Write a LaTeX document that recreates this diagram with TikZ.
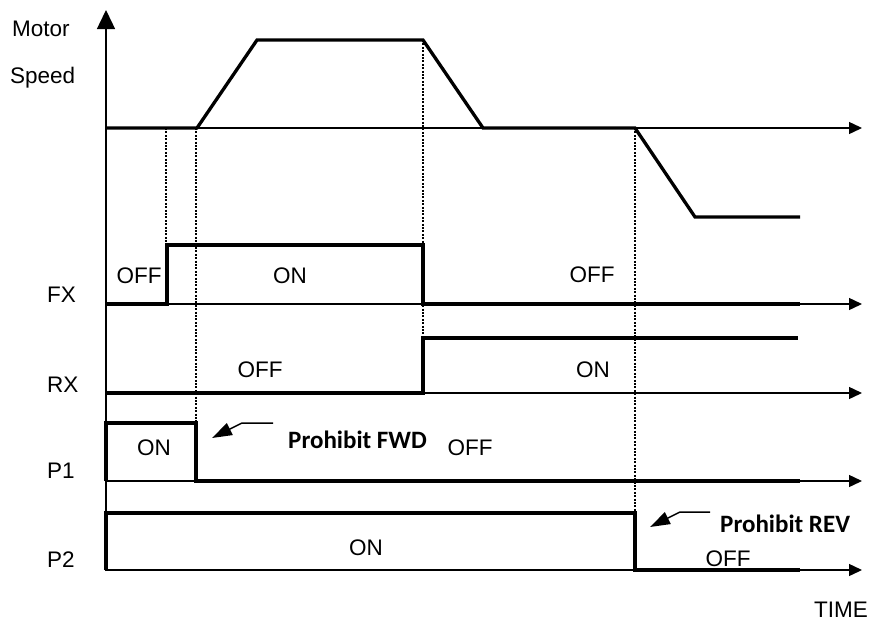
\documentclass[tikz,border=0pt]{standalone}
\usepackage{fontspec}
\setmainfont{Liberation Sans}
\newfontfamily\boldcal{Carlito}[BoldFont={Carlito Bold}]
\usetikzlibrary{arrows.meta}
\begin{document}
\begin{tikzpicture}[x=1pt,y=-1pt,
  thinline/.style={line width=1.4pt},
  sig/.style={line width=3.3pt,line join=miter},
  guide/.style={line width=1.6pt,dash pattern=on 2pt off 1.4pt},
  axisarrow/.style={thinline,-{Triangle[length=13pt,width=12pt]}},
  lbl/.style={font=\fontsize{22.5}{25}\selectfont,inner sep=0pt},
  blbl/.style={font=\boldcal\bfseries\fontsize{25}{28}\selectfont,inner sep=0pt},
  note/.style={line width=1.5pt,-{Triangle[length=20pt,width=13pt]}}]
\useasboundingbox (0,0) rectangle (872,621);
% vertical axis
\draw[thinline,-{Triangle[length=19pt,width=18pt]}] (106,571) -- (106,10);
% baselines
\foreach \yy in {128,304,393,481,570}
  \draw[axisarrow] (106,\yy) -- (862,\yy);
% guides
\draw[guide] (166,128) -- (166,245);
\draw[guide] (196,128) -- (196,423);
\draw[guide] (423,40) -- (423,338);
\draw[guide] (635,128) -- (635,513);
% speed
\draw[sig] (106,128) -- (197,128) -- (257,40) -- (423,40) -- (483,128) -- (635,128) -- (695,217) -- (800,217);
% FX
\draw[sig] (106,304) -- (167,304) -- (167,245) -- (423,245) -- (423,304) -- (800,304);
% RX
\draw[sig] (106,393) -- (423,393) -- (423,338) -- (798,338);
% P1
\draw[sig] (106,481) -- (106,423) -- (196,423) -- (196,481) -- (800,481);
% P2
\draw[sig] (106,570) -- (106,513) -- (635,513) -- (635,570) -- (800,570);
% left labels
\node[lbl,anchor=base west] (motor) at (12,36) {Motor};
\node[lbl,anchor=base west] (speed) at (10,83) {Speed};
\node[lbl,anchor=base west] (fx) at (47,302) {FX};
\node[lbl,anchor=base west] (rx) at (47,392) {RX};
\node[lbl,anchor=base west] (p1) at (47,478) {P1};
\node[lbl,anchor=base west] (p2) at (47,567) {P2};
\node[lbl,anchor=base east] (time) at (868,617) {TIME};
% state labels
\node[lbl,anchor=base] (fxoff) at (139,283) {OFF};
\node[lbl,anchor=base] (fxon) at (290,283) {ON};
\node[lbl,anchor=base] (fxoff2) at (592,282) {OFF};
\node[lbl,anchor=base] (rxoff) at (260,377) {OFF};
\node[lbl,anchor=base] (rxon) at (593,377) {ON};
\node[lbl,anchor=base] (p1on) at (154,455) {ON};
\node[lbl,anchor=base] (p1off) at (470,455) {OFF};
\node[lbl,anchor=base] (p2on) at (366,555) {ON};
\node[lbl,anchor=base] (p2off) at (728,566) {OFF};
\node[blbl,anchor=base west] (pfwd) at (288,448) {Prohibit FWD};
\node[blbl,anchor=base west] (prev) at (720,532) {Prohibit REV};
% annotation arrows
\coordinate (a1s) at (273,423);
\coordinate (a1k) at (242,423);
\coordinate (a1t) at (212,438);
\draw[note] (a1s) -- (a1k) -- (a1t);
\coordinate (a2s) at (710,512);
\coordinate (a2k) at (680,512);
\coordinate (a2t) at (650,527);
\draw[note] (a2s) -- (a2k) -- (a2t);
\end{tikzpicture}
\end{document}
